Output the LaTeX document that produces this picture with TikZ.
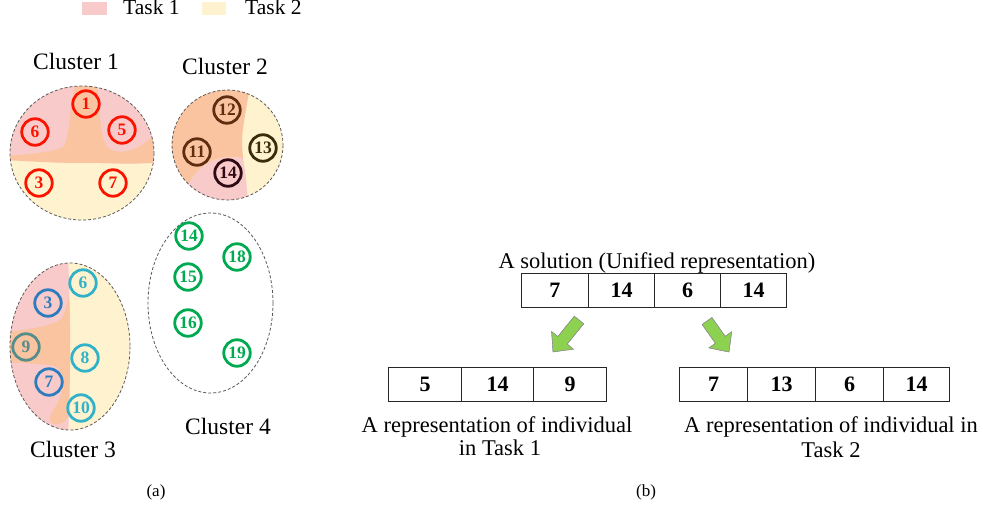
\documentclass[tikz,border=0pt]{standalone}
\usepackage{fontspec}
\setmainfont{Liberation Serif}
\definecolor{tpink}{RGB}{249,202,202}
\definecolor{tyellow}{RGB}{255,242,206}
\definecolor{torange}{RGB}{250,196,160}
\definecolor{cred}{RGB}{250,20,0}
\definecolor{cbrown}{RGB}{95,45,15}
\definecolor{colive}{RGB}{55,45,10}
\definecolor{cdark}{RGB}{45,10,20}
\definecolor{cblue}{RGB}{45,125,190}
\definecolor{ccyan}{RGB}{50,178,200}
\definecolor{cteal}{RGB}{85,140,140}
\definecolor{cgreen}{RGB}{0,170,80}
\definecolor{agreen}{RGB}{140,210,80}
\tikzset{
 num/.style={circle, draw=#1, text=#1, line width=2.8pt, minimum size=26.5pt, inner sep=0pt, font=\fontsize{17.5}{17.5}\selectfont\bfseries},
 clus/.style={draw=black!65, dash pattern=on 3pt off 2pt, line width=0.8pt},
 lab/.style={font=\fontsize{22.5}{26}\selectfont, anchor=base, inner sep=0pt},
 clab/.style={font=\fontsize{23.5}{26}\selectfont, anchor=base, inner sep=0pt},
 cell/.style={draw=black!85, line width=1.2pt, minimum height=34pt, inner sep=0pt, anchor=north west, font=\fontsize{22}{22}\selectfont\bfseries},
 garrow/.style={fill=agreen, draw=black!45, line width=0.4pt},
}
\begin{document}
\begin{tikzpicture}[x=1pt,y=-1pt]
\useasboundingbox (0,0) rectangle (983,508);
% legend
\fill[tpink] (82,2) rectangle (107,15);
\node[lab, anchor=base west, font=\fontsize{21.5}{24}\selectfont] (lt1) at (123,15) {Task 1};
\fill[tyellow] (202,2) rectangle (226,15);
\node[lab, anchor=base west, font=\fontsize{21.5}{24}\selectfont] (lt2) at (245,15) {Task 2};
% cluster 1
\begin{scope}
\clip (82,153) ellipse [x radius=72, y radius=67];
\fill[tyellow] (0,70) rectangle (170,230);
\fill[tpink] (0,70) -- (170,70) -- (170,160) .. controls (135,166) and (105,162) .. (83,163) .. controls (50,163) and (30,160) .. (0,158) -- cycle;
\fill[torange] (0,157) .. controls (25,154) and (55,153) .. (64,146) .. controls (70,135) and (70,100) .. (76,84) .. controls (80,74) and (94,76) .. (97,88) .. controls (101,105) and (98,135) .. (108,148) .. controls (118,156) and (140,150) .. (150,138) .. controls (155,132) and (165,135) .. (170,140) -- (170,161) .. controls (135,166) and (105,162) .. (83,163) .. controls (50,163) and (30,161) .. (0,160) -- cycle;
\end{scope}
\draw[clus] (82,153) ellipse [x radius=72, y radius=67];
% cluster 2
\begin{scope}
\clip (227.5,145) ellipse [x radius=55.5, y radius=55];
\fill[tyellow] (165,85) rectangle (290,205);
\fill[torange] (165,85) -- (250,85) -- (248,98) .. controls (246,110) and (242,130) .. (242,142) .. controls (242,150) and (243,155) .. (243,158) .. controls (235,157) and (215,156) .. (205,165) .. controls (195,173) and (188,180) .. (183,200) -- (165,205) -- cycle;
\fill[tpink] (183,200) .. controls (188,180) and (195,173) .. (205,165) .. controls (215,156) and (235,157) .. (243,158) .. controls (245,170) and (247,185) .. (248,205) -- cycle;
\end{scope}
\draw[clus] (227.5,145) ellipse [x radius=55.5, y radius=55];
% cluster 3
\begin{scope}
\clip (70,346.5) ellipse [x radius=60, y radius=83.5];
\fill[tyellow] (0,255) rectangle (140,440);
\fill[tpink] (0,255) -- (68,255) .. controls (70,300) and (71,360) .. (68,440) -- (0,440) -- cycle;
\fill[torange] (0,333) .. controls (25,330) and (55,326) .. (62,318) .. controls (66,310) and (68,300) .. (69,295) .. controls (71,330) and (70,380) .. (69,412) .. controls (68,425) and (52,428) .. (50,420) .. controls (49,412) and (60,405) .. (62,390) .. controls (63,372) and (60,366) .. (50,365) .. controls (35,364) and (15,362) .. (0,362) -- cycle;
\end{scope}
\draw[clus] (70,346.5) ellipse [x radius=60, y radius=83.5];
% cluster 4
\draw[clus] (210.5,303) ellipse [x radius=62.5, y radius=90];
% cluster nodes
\node[num=cred] (a1) at (86,104) {1};
\node[num=cred] (a6) at (35,132) {6};
\node[num=cred] (a5) at (122,130) {5};
\node[num=cred] (a3) at (39,183) {3};
\node[num=cred] (a7) at (113,183) {7};
\node[num=cbrown] (b12) at (227,110) {12};
\node[num=cbrown] (b11) at (197,152) {11};
\node[num=colive] (b13) at (263,148) {13};
\node[num=cdark] (b14) at (228,173) {14};
\node[num=ccyan] (c6) at (83,283) {6};
\node[num=cblue] (c3) at (48,303) {3};
\node[num=cteal] (c9) at (26,347) {9};
\node[num=ccyan] (c8) at (85,358) {8};
\node[num=cblue] (c7) at (49,382) {7};
\node[num=ccyan] (c10) at (81,408) {10};
\node[num=cgreen] (d14) at (189,236) {14};
\node[num=cgreen] (d18) at (237,257) {18};
\node[num=cgreen] (d15) at (188,277) {15};
\node[num=cgreen] (d16) at (188,323) {16};
\node[num=cgreen] (d19) at (237,353) {19};
% cluster labels
\node[clab] (l1) at (76,70) {Cluster 1};
\node[clab] (l2) at (225,75) {Cluster 2};
\node[clab] (l3) at (73,457) {Cluster 3};
\node[clab] (l4) at (228,434) {Cluster 4};
\node[lab, font=\fontsize{17}{18}\selectfont] (la) at (156,496) {(a)};
% part b
\node[lab] (sol) at (657,268) {A solution (Unified representation)};
\node[cell, minimum width=66.5pt] (s1) at (521,273) {7};
\node[cell, minimum width=66pt] (s2) at (588,273) {14};
\node[cell, minimum width=66pt] (s3) at (654,273) {6};
\node[cell, minimum width=66pt] (s4) at (720,273) {14};
\node[cell, minimum width=73pt] (p1) at (388,367) {5};
\node[cell, minimum width=72pt] (p2) at (461,367) {14};
\node[cell, minimum width=73pt] (p3) at (533,367) {9};
\node[cell, minimum width=68pt] (q1) at (679,367) {7};
\node[cell, minimum width=68pt] (q2) at (747,367) {13};
\node[cell, minimum width=68pt] (q3) at (815,367) {6};
\node[cell, minimum width=66pt] (q4) at (883,367) {14};
\fill[garrow] (583.7,323.8) -- (567.2,344.1) -- (573.4,349.1) -- (553,352) -- (551.6,331.5) -- (557.8,336.5) -- (574.3,316.2) -- cycle;
\fill[garrow] (702.1,324.5) -- (715.4,343.3) -- (708.9,347.9) -- (729,352) -- (731.7,331.7) -- (725.2,336.3) -- (711.9,317.5) -- cycle;
\draw[garrow, fill=none] (583.7,323.8) -- (567.2,344.1) -- (573.4,349.1) -- (553,352) -- (551.6,331.5) -- (557.8,336.5) -- (574.3,316.2) -- cycle;
\draw[garrow, fill=none] (702.1,324.5) -- (715.4,343.3) -- (708.9,347.9) -- (729,352) -- (731.7,331.7) -- (725.2,336.3) -- (711.9,317.5) -- cycle;
\node[lab] (t1a) at (497,432) {A representation of individual};
\node[lab] (t1b) at (500,455) {in Task 1};
\node[lab] (t2a) at (831,432) {A representation of individual in};
\node[lab] (t2b) at (831,457) {Task 2};
\node[lab, font=\fontsize{17}{18}\selectfont] (lb) at (646,496) {(b)};
\end{tikzpicture}
\end{document}
